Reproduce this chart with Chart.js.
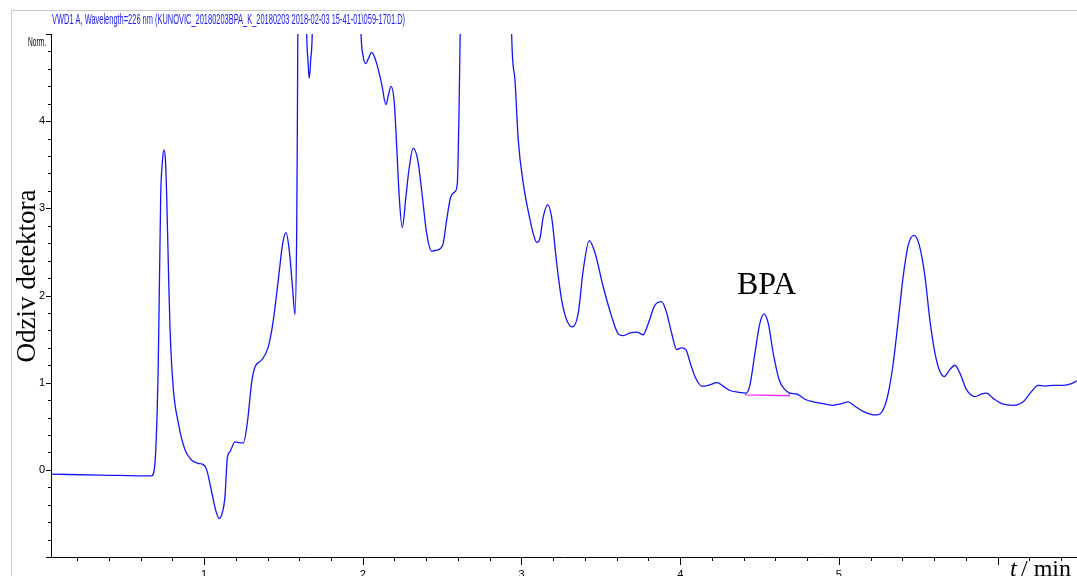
<!DOCTYPE html>
<html>
<head>
<meta charset="utf-8">
<script src="https://cdn.jsdelivr.net/npm/chart.js@4"></script>
<style>
  html, body { margin: 0; padding: 0; background: #fff; overflow: hidden; }
  #wrap { width: 1077px; height: 576px; }
</style>
</head>
<body>
<div id="wrap"><canvas id="chrom" width="1077" height="576"></canvas></div>
<script>
// retention time (min) and detector response
const timeMin = [
  0.04, 0.35, 0.67, 0.691, 0.712, 0.727, 0.739, 0.748, 0.757, 0.765, 0.775, 0.786, 0.807, 0.838,
  0.880, 0.923, 0.962, 0.996, 1.017, 1.049, 1.076, 1.096, 1.117, 1.132, 1.147, 1.164, 1.195, 1.227,
  1.248, 1.273, 1.300, 1.321, 1.363, 1.405, 1.437, 1.468, 1.496, 1.517, 1.537, 1.559, 1.573, 1.584,
  1.588, 1.594, 1.617, 1.641, 1.647, 1.655, 1.663, 1.672, 1.682, 1.690, 1.75, 1.85, 1.95, 1.983,
  1.989, 2.003, 2.020, 2.036, 2.056, 2.071, 2.088, 2.119, 2.146, 2.162, 2.178, 2.199, 2.214, 2.230,
  2.249, 2.272, 2.291, 2.318, 2.346, 2.371, 2.403, 2.434, 2.466, 2.504, 2.529, 2.554, 2.581, 2.596,
  2.608, 2.614, 2.622, 2.70, 2.80, 2.90, 2.931, 2.938, 2.959, 2.980, 3.011, 3.054, 3.074, 3.096,
  3.117, 3.137, 3.165, 3.190, 3.222, 3.253, 3.285, 3.322, 3.358, 3.389, 3.427, 3.463, 3.515, 3.568,
  3.610, 3.641, 3.684, 3.726, 3.767, 3.799, 3.841, 3.883, 3.915, 3.946, 3.978, 4.009, 4.036, 4.061,
  4.093, 4.135, 4.177, 4.233, 4.271, 4.313, 4.366, 4.414, 4.439, 4.471, 4.502, 4.528, 4.555, 4.586,
  4.624, 4.660, 4.691, 4.734, 4.786, 4.838, 4.901, 4.964, 5.017, 5.058, 5.101, 5.153, 5.195, 5.237,
  5.279, 5.311, 5.342, 5.374, 5.405, 5.437, 5.473, 5.506, 5.542, 5.573, 5.605, 5.636, 5.663, 5.699,
  5.731, 5.762, 5.804, 5.857, 5.899, 5.930, 5.972, 6.025, 6.098, 6.161, 6.214, 6.255, 6.298, 6.350,
  6.413, 6.466, 6.499
];
const response = [
  -0.05, -0.06, -0.07, 0.08, 1.23, 3.13, 3.56, 3.67, 3.56, 3.13, 2.37, 1.61, 0.92, 0.54,
  0.23, 0.11, 0.075, 0.06, 0.0, -0.26, -0.48, -0.56, -0.48, -0.31, 0.14, 0.21, 0.32, 0.31,
  0.31, 0.54, 1.0, 1.18, 1.26, 1.41, 1.72, 2.18, 2.60, 2.72, 2.52, 2.06, 1.78, 2.75,
  3.90, 6.0, 7.5, 6.0, 5.01, 4.70, 4.49, 4.70, 5.01, 6.0, 7.0, 7.5, 7.0, 5.5,
  5.01, 4.74, 4.66, 4.72, 4.79, 4.75, 4.66, 4.43, 4.19, 4.30, 4.40, 4.21, 3.71, 3.13,
  2.78, 3.13, 3.44, 3.69, 3.56, 3.21, 2.71, 2.51, 2.52, 2.58, 2.87, 3.13, 3.19, 3.29,
  4.28, 5.01, 6.0, 8.0, 9.0, 8.0, 6.0, 5.01, 4.47, 3.78, 3.29, 2.87, 2.71, 2.61,
  2.66, 2.90, 3.04, 2.90, 2.37, 1.95, 1.72, 1.64, 1.80, 2.29, 2.63, 2.49, 2.10, 1.76,
  1.56, 1.54, 1.57, 1.58, 1.55, 1.68, 1.89, 1.93, 1.80, 1.57, 1.38, 1.40, 1.38, 1.24,
  1.07, 0.96, 0.97, 1.00, 0.96, 0.91, 0.89, 0.88, 0.97, 1.34, 1.68, 1.79, 1.68, 1.34,
  1.03, 0.92, 0.88, 0.87, 0.81, 0.78, 0.76, 0.74, 0.76, 0.78, 0.73, 0.67, 0.64, 0.63,
  0.69, 0.88, 1.22, 1.72, 2.22, 2.58, 2.69, 2.58, 2.22, 1.72, 1.34, 1.13, 1.07, 1.15,
  1.20, 1.11, 0.92, 0.84, 0.87, 0.88, 0.82, 0.76, 0.74, 0.78, 0.90, 0.97, 0.96, 0.97,
  0.97, 0.99, 1.02
];

// integration baseline under the BPA peak
const bpaBaseTime = [4.412, 4.412, 4.687, 4.687];
const bpaBaseResp = [0.88, 0.86, 0.85, 0.88];

const xTickLabels = [1, 2, 3, 4, 5];
const yTickLabels = [0, 1, 2, 3, 4];

const headerText = 'VWD1 A, Wavelength=226 nm (KUNOVIC_20180203BPA_K_20180203 2018-02-03 15-41-01\\059-1701.D)';

const serif = '"Liberation Serif", "Times New Roman", serif';
const sans = '"Liberation Sans", Arial, sans-serif';

const trace = timeMin.map((t, i) => ({ x: t, y: response[i] }));
const bpaBase = bpaBaseTime.map((t, i) => ({ x: t, y: bpaBaseResp[i] }));

// frame, tick marks and the annotation texts
const decor = {
  id: 'decor',
  afterDraw(chart) {
    const ctx = chart.ctx;
    const xs = chart.scales.x;
    const ys = chart.scales.y;
    const area = chart.chartArea;
    ctx.save();

    ctx.strokeStyle = '#c8c8c8';
    ctx.lineWidth = 1;
    ctx.beginPath();
    ctx.moveTo(11.5, 576);
    ctx.lineTo(11.5, 10.5);
    ctx.lineTo(1077, 10.5);
    ctx.stroke();

    ctx.strokeStyle = '#000';
    ctx.beginPath();
    xs.ticks.forEach(t => {
      const px = Math.round(xs.getPixelForValue(t.value)) + 0.5;
      const major = Math.abs(t.value - Math.round(t.value)) < 1e-6;
      ctx.moveTo(px, area.bottom);
      ctx.lineTo(px, area.bottom + (major ? 8 : 4));
    });
    ys.ticks.forEach(t => {
      const py = Math.round(ys.getPixelForValue(t.value)) + 0.5;
      const major = Math.abs(t.value - Math.round(t.value)) < 1e-6;
      ctx.moveTo(area.left, py);
      ctx.lineTo(area.left - (major ? 5 : 3), py);
    });
    ctx.stroke();

    // header, squeezed like the instrument printout
    ctx.fillStyle = '#1a1aff';
    ctx.font = '15px ' + sans;
    let w = ctx.measureText(headerText).width;
    ctx.save();
    ctx.translate(52, 24);
    ctx.scale(353 / w, 1);
    ctx.textBaseline = 'alphabetic';
    ctx.fillText(headerText, 0, 0);
    ctx.restore();

    ctx.fillStyle = '#000';
    ctx.font = '12px ' + sans;
    w = ctx.measureText('Norm.').width;
    ctx.save();
    ctx.translate(28, 46);
    ctx.scale(18 / w, 1);
    ctx.fillText('Norm.', 0, 0);
    ctx.restore();

    ctx.save();
    ctx.translate(28, 276);
    ctx.rotate(-Math.PI / 2);
    ctx.font = '27px ' + serif;
    ctx.textAlign = 'center';
    ctx.textBaseline = 'middle';
    ctx.fillText('Odziv detektora', 0, 0);
    ctx.restore();

    ctx.font = '32px ' + serif;
    ctx.textAlign = 'left';
    ctx.textBaseline = 'alphabetic';
    ctx.fillText('BPA', 737, 294);

    ctx.font = 'italic 24px ' + serif;
    ctx.fillText('t', 1010, 576);
    ctx.font = '24px ' + serif;
    ctx.fillText('/ min', 1021, 576);

    ctx.restore();
  }
};

new Chart(document.getElementById('chrom'), {
  type: 'line',
  data: {
    datasets: [
      {
        data: trace,
        borderColor: '#1414ff',
        borderWidth: 1.3,
        pointRadius: 0,
        fill: false,
        cubicInterpolationMode: 'monotone'
      },
      {
        data: bpaBase,
        borderColor: '#ff2cff',
        borderWidth: 1.3,
        pointRadius: 0,
        fill: false,
        tension: 0
      }
    ]
  },
  options: {
    responsive: false,
    animation: false,
    events: [],
    layout: { padding: { top: 34, right: 0, bottom: 0, left: 0 } },
    plugins: {
      legend: { display: false },
      tooltip: { enabled: false },
      title: { display: false }
    },
    scales: {
      x: {
        type: 'linear',
        min: 0.036,
        max: 6.5,
        grid: { display: false, drawTicks: false },
        border: { display: true, color: '#000', width: 1 },
        ticks: {
          stepSize: 0.2,
          maxTicksLimit: 40,
          includeBounds: false,
          autoSkip: false,
          maxRotation: 0,
          padding: 11,
          color: '#000',
          font: { family: sans, size: 11 },
          callback: v => (xTickLabels.includes(Math.round(v * 10) / 10) ? String(Math.round(v)) : '')
        },
        afterFit: s => { s.height = 19; }
      },
      y: {
        type: 'linear',
        min: -1,
        max: 5,
        grid: { display: false, drawTicks: false },
        border: { display: true, color: '#000', width: 1 },
        ticks: {
          stepSize: 0.2,
          maxTicksLimit: 31,
          includeBounds: false,
          autoSkip: false,
          padding: 6,
          color: '#000',
          font: { family: sans, size: 11 },
          callback: v => (yTickLabels.includes(Math.round(v * 10) / 10) ? String(Math.round(v)) : '')
        },
        afterFit: s => { s.width = 51; }
      }
    }
  },
  plugins: [decor]
});
</script>
</body>
</html>
